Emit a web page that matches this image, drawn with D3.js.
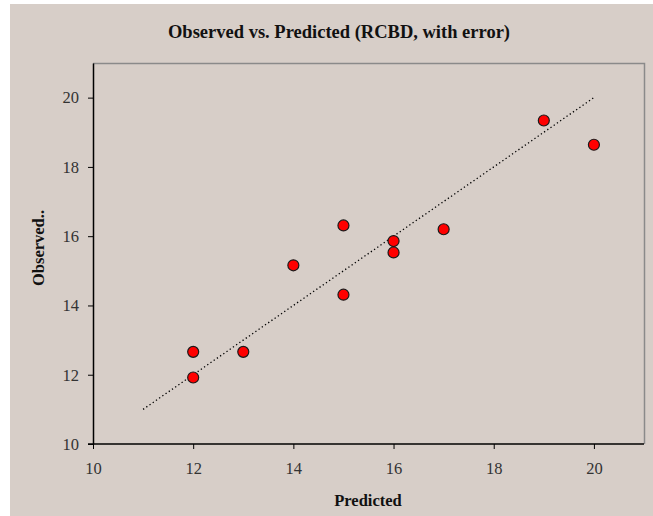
<!DOCTYPE html>
<html>
<head>
<meta charset="utf-8">
<script src="https://cdn.jsdelivr.net/npm/d3@7"></script>
<style>
  body { margin: 0; background: #fff; }
  svg text { font-family: "Liberation Serif", "DejaVu Serif", serif; }
</style>
</head>
<body>
<div id="chart"></div>
<script>
// observed vs predicted values
var predicted = [12, 12, 13, 14, 15, 15, 16, 16, 17, 19, 20];
var observed  = [12.66, 11.92, 12.66, 15.16, 16.31, 14.31, 15.86, 15.53, 16.2, 19.34, 18.64];
var lineX = [11, 20]; // observed = predicted reference line
var xTicks = [10, 12, 14, 16, 18, 20];
var yTicks = [10, 12, 14, 16, 18, 20];

var width = 653, height = 516;
var plotLeft = 93, plotRight = 644, plotTop = 63, plotBottom = 444;

var svg = d3.select("#chart").append("svg")
  .attr("width", width)
  .attr("height", height);

svg.append("rect")
  .attr("x", 10).attr("y", 4)
  .attr("width", 643).attr("height", 512)
  .attr("fill", "#d7cec8");

var x = d3.scaleLinear().domain([10, 21]).range([plotLeft, plotRight]);
var y = d3.scaleLinear().domain([10, 21]).range([plotBottom, plotTop]);

// plot frame top / right
svg.append("path")
  .attr("d", "M" + plotLeft + "," + (plotTop + 0.5) + "H" + (plotRight + 0.5) + "V" + plotBottom)
  .attr("fill", "none")
  .attr("stroke", "#8a8a8a")
  .attr("stroke-width", 1.5);

var xAxis = svg.append("g")
  .attr("transform", "translate(0," + plotBottom + ")")
  .call(d3.axisBottom(x).tickValues(xTicks).tickSize(5).tickPadding(13).tickSizeOuter(0));
var yAxis = svg.append("g")
  .attr("transform", "translate(" + plotLeft + ",0)")
  .call(d3.axisLeft(y).tickValues(yTicks).tickSize(5).tickPadding(9).tickSizeOuter(0));

[xAxis, yAxis].forEach(function(a) {
  a.select(".domain").attr("stroke", "#000").attr("stroke-width", 1.5);
  a.selectAll(".tick line").attr("stroke", "#000");
  a.selectAll(".tick text")
    .attr("fill", "#333")
    .style("font-family", '"Liberation Serif", serif')
    .style("font-size", "16.5px");
});
xAxis.select(".domain").attr("d", "M" + (plotLeft - 5) + ",0H" + plotRight);

// reference line
svg.append("line")
  .attr("x1", x(lineX[0])).attr("y1", y(lineX[0]))
  .attr("x2", x(lineX[1])).attr("y2", y(lineX[1]))
  .attr("stroke", "#000")
  .attr("stroke-width", 1.3)
  .attr("stroke-dasharray", "1.3,2.6");

svg.selectAll(".pt")
  .data(predicted)
  .enter().append("circle")
  .attr("class", "pt")
  .attr("cx", function(d) { return x(d); })
  .attr("cy", function(d, i) { return y(observed[i]); })
  .attr("r", 5.5)
  .attr("fill", "#ff0000")
  .attr("stroke", "#1a1a1a")
  .attr("stroke-width", 1.2);

svg.append("text")
  .attr("x", 339).attr("y", 38)
  .attr("text-anchor", "middle")
  .attr("font-weight", "bold")
  .attr("font-size", "18.5px")
  .attr("fill", "#111")
  .text("Observed vs. Predicted (RCBD, with error)");

svg.append("text")
  .attr("x", 368).attr("y", 506)
  .attr("text-anchor", "middle")
  .attr("font-weight", "bold")
  .attr("font-size", "16.5px")
  .attr("fill", "#111")
  .text("Predicted");

svg.append("text")
  .attr("transform", "translate(44,248) rotate(-90)")
  .attr("text-anchor", "middle")
  .attr("font-weight", "bold")
  .attr("font-size", "16.5px")
  .attr("fill", "#111")
  .text("Observed..");
</script>
</body>
</html>
